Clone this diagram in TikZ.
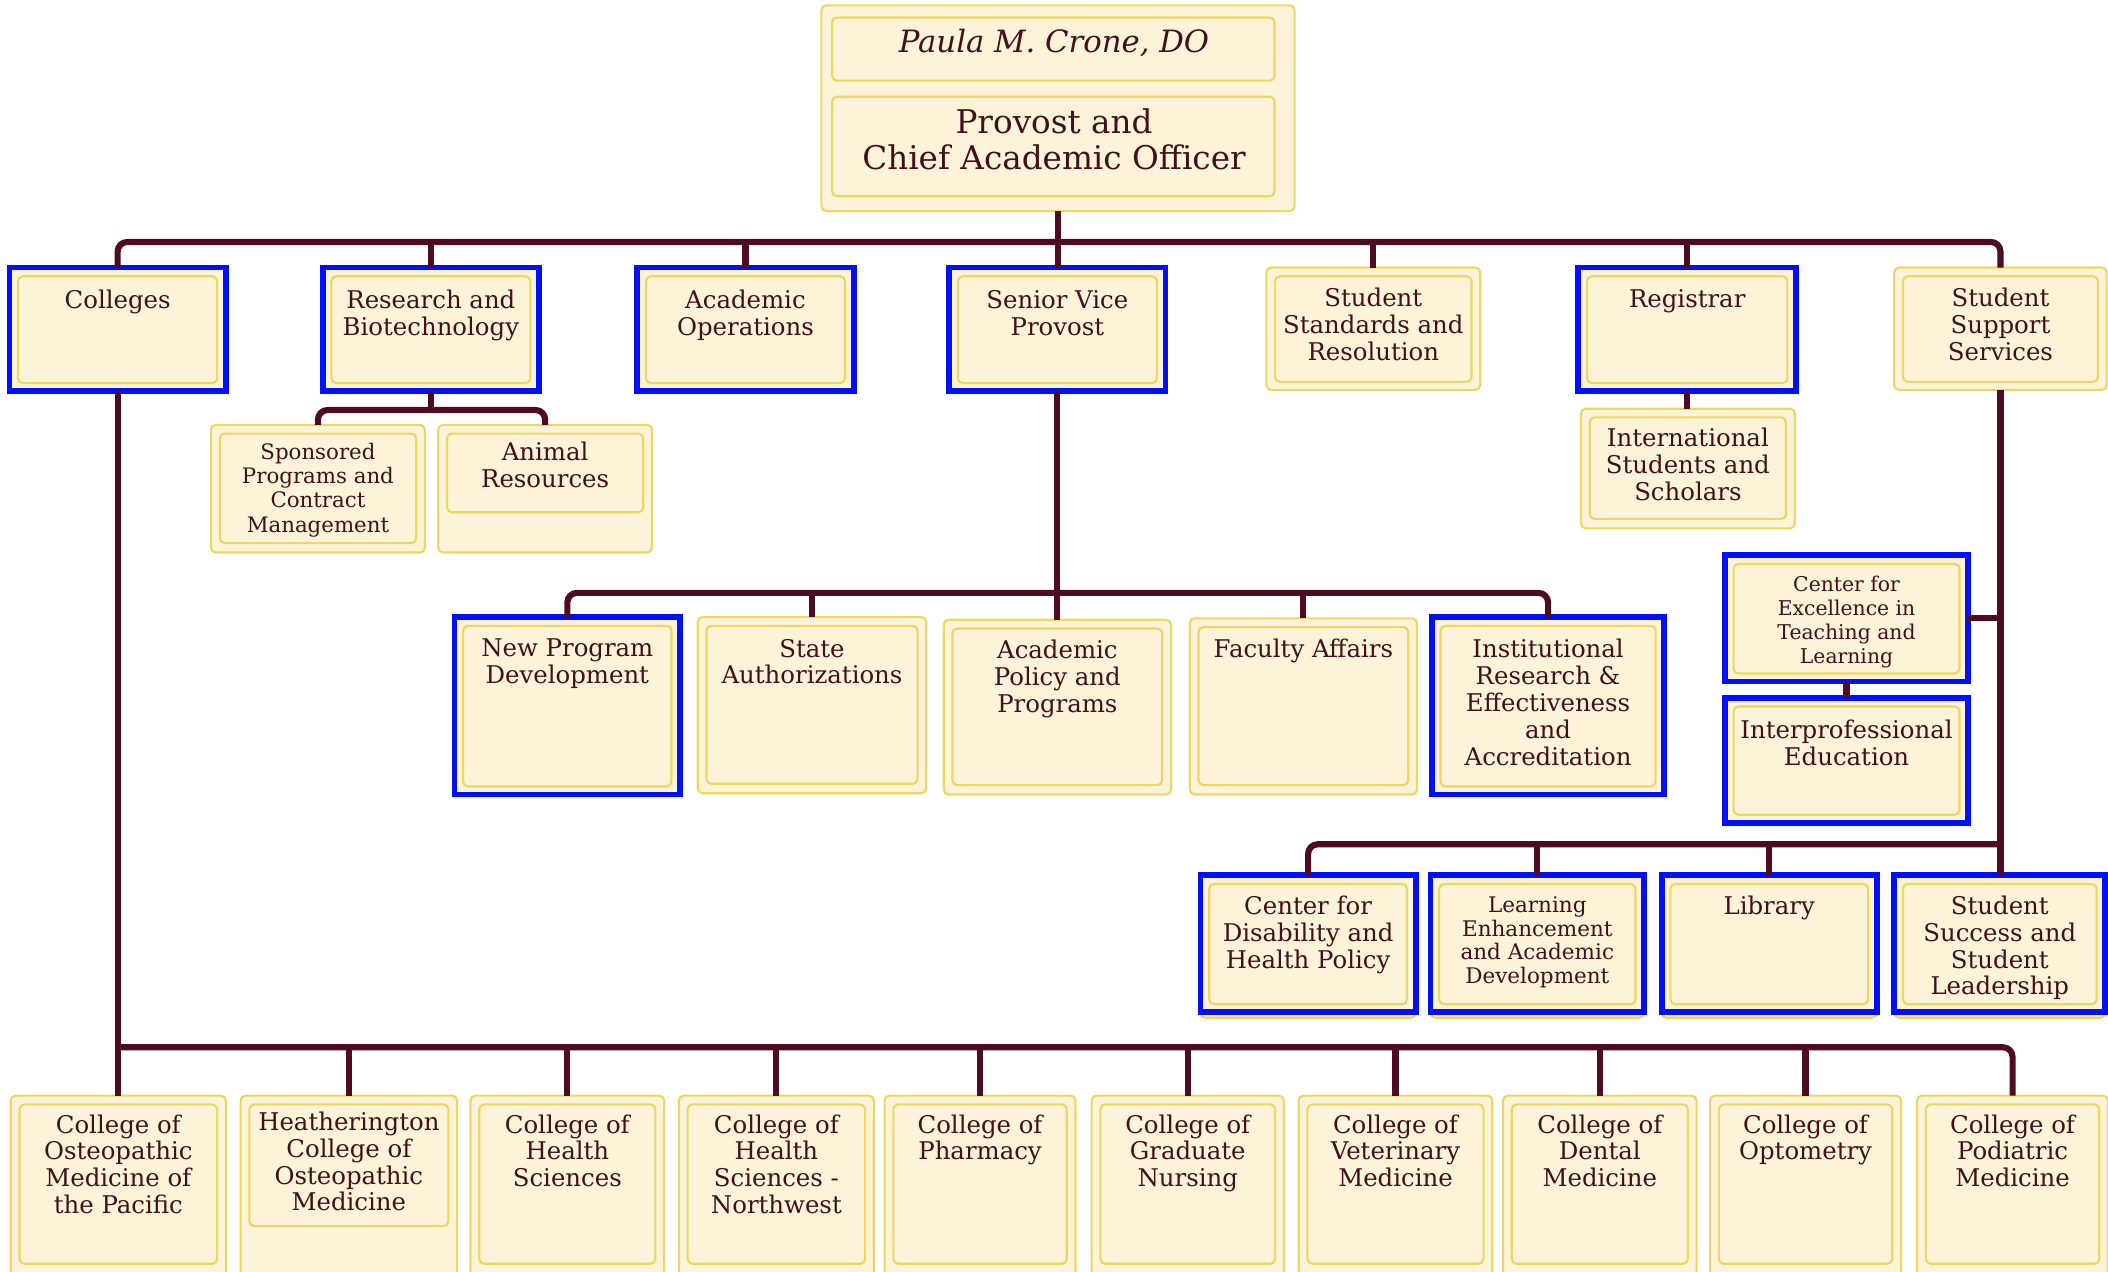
\documentclass[tikz,border=0pt]{standalone}
\usepackage{fontspec}
\setmainfont{DejaVu Serif}
\definecolor{cream}{RGB}{253,243,216}
\definecolor{ybord}{RGB}{238,214,98}
\definecolor{bblue}{RGB}{0,16,255}
\definecolor{maroon}{RGB}{78,12,32}
\definecolor{txtc}{RGB}{66,16,26}
\tikzset{
 yb/.style={rectangle, draw=ybord, line width=1.1pt, fill=cream, rounded corners=2.5pt, inner sep=0pt, outer sep=0pt},
 bb/.style={rectangle, draw=bblue, line width=3pt, fill=cream, inner sep=0pt, outer sep=0pt},
 inr/.style={draw=ybord, line width=1.1pt, rounded corners=2.5pt},
 txt/.style={anchor=north, align=center, inner sep=0pt, text=txtc, font=\fontsize{12.7}{14}\selectfont},
 conn/.style={draw=maroon, line width=3.2pt},
}
% name, x1, y1, x2, y2, kind, inner bottom, text top, text
\newcommand{\orgbox}[9]{%
  \node[#6, minimum width={(#4-#2)*0.7pt}, minimum height={(#5-#3)*0.7pt}, anchor=north west] (#1) at (#2,#3) {};
  \draw[inr] (#2+6.5,#3+6.5) rectangle (#4-6.5,#7);
  \node[txt] (#1-t) at ({(#2+#4)/2},#8) {#9};
}
\begin{document}
\begin{tikzpicture}[x=0.7pt,y=-0.7pt]
\useasboundingbox (0,0) rectangle (1568,946);
\clip (0,0) rectangle (1568,946);

% top box
\node[yb, minimum width={352*0.7pt}, minimum height={153*0.7pt}, anchor=north west] (provost) at (611,4) {};
\node[yb, fill=none, minimum width={329*0.7pt}, minimum height={47*0.7pt}, anchor=north west] (pname) at (619,13) {};
\node[yb, fill=none, minimum width={329*0.7pt}, minimum height={74*0.7pt}, anchor=north west] (ptitle) at (619,72) {};
\node[anchor=base, inner sep=0pt, text=txtc, font=\fontsize{16}{19}\selectfont\itshape] (pname-t) at (784,39.3) {Paula M. Crone, DO};
\node[txt, font=\fontsize{17}{19}\selectfont] (ptitle-t) at (784,80.4) {Provost and\\Chief Academic Officer};

% row 1
\orgbox{colleges}{7}{199}{168}{291}{bb}{285}{215.5}{Colleges}
\orgbox{research}{240}{199}{401}{291}{bb}{285}{215.5}{Research and\\Biotechnology}
\orgbox{acadops}{474}{199}{635}{291}{bb}{285}{215.5}{Academic\\Operations}
\orgbox{svp}{706}{199}{867}{291}{bb}{285}{215.5}{Senior Vice\\Provost}
\orgbox{ssr}{942}{199}{1101}{290}{yb}{284}{214}{Student\\Standards and\\Resolution}
\orgbox{registrar}{1174}{199}{1336}{291}{bb}{285}{215}{Registrar}
\orgbox{sss}{1409}{199}{1567}{290}{yb}{284}{214}{Student\\Support\\Services}

% research sub
\begin{scope}[txt/.append style={font=\fontsize{11.1}{12.6}\selectfont}]
\orgbox{sponsored}{157}{316}{316}{411}{yb}{404}{329.5}{Sponsored\\Programs and\\Contract\\Management}
\end{scope}
\orgbox{animal}{326}{316}{485}{411}{yb}{381}{328.7}{Animal\\Resources}
\orgbox{iss}{1176}{304}{1335}{393}{yb}{386}{318}{International\\Students and\\Scholars}

% row 3
\orgbox{newprog}{338}{459}{506}{591}{bb}{585}{475}{New Program\\Development}
\orgbox{state}{519}{459}{689}{590}{yb}{583}{475}{State\\Authorizations}
\orgbox{acadpol}{702}{461}{871}{591}{yb}{584}{476}{Academic\\Policy and\\Programs}
\orgbox{faculty}{885}{460}{1054}{591}{yb}{584}{475}{Faculty Affairs}
\orgbox{instres}{1065}{459}{1238}{591}{bb}{585}{475}{Institutional\\Research \&\\Effectiveness\\and\\Accreditation}

% CETL / IPE
\begin{scope}[txt/.append style={font=\fontsize{10.6}{12.6}\selectfont}]
\orgbox{cetl}{1283}{413}{1464}{507}{bb}{501}{428}{Center for\\Excellence in\\Teaching and\\Learning}
\end{scope}
\orgbox{ipe}{1283}{519}{1464}{612}{bb}{606}{535}{Interprofessional\\Education}

% row 4
\foreach \a/\b in {893/1053,1064/1223,1236/1396,1409/1566}
  \path[yb] (\a,656) rectangle (\b,757);
\orgbox{cdhp}{893}{651}{1053}{753}{bb}{747}{666}{Center for\\Disability and\\Health Policy}
\begin{scope}[txt/.append style={font=\fontsize{11.2}{12.4}\selectfont}]
\orgbox{lead}{1064}{651}{1223}{753}{bb}{747}{666.5}{Learning\\Enhancement\\and Academic\\Development}
\end{scope}
\orgbox{library}{1236}{651}{1396}{753}{bb}{747}{666}{Library}
\orgbox{ssl}{1409}{651}{1566}{753}{bb}{747}{666}{Student\\Success and\\Student\\Leadership}

% bottom row
\orgbox{comp}{8}{815}{168}{965}{yb}{940}{828.7}{College of\\Osteopathic\\Medicine of\\the Pacific}
\orgbox{heath}{179}{815}{340}{965}{yb}{912}{826.7}{Heatherington\\College of\\Osteopathic\\Medicine}
\orgbox{chs}{350}{815}{494}{965}{yb}{940}{828.7}{College of\\Health\\Sciences}
\orgbox{chsnw}{505}{815}{650}{965}{yb}{940}{828.7}{College of\\Health\\Sciences -\\Northwest}
\orgbox{pharm}{658}{815}{800}{965}{yb}{940}{828.7}{College of\\Pharmacy}
\orgbox{nursing}{812}{815}{955}{965}{yb}{940}{828.7}{College of\\Graduate\\Nursing}
\orgbox{vet}{966}{815}{1110}{965}{yb}{940}{828.7}{College of\\Veterinary\\Medicine}
\orgbox{dental}{1118}{815}{1262}{965}{yb}{940}{828.7}{College of\\Dental\\Medicine}
\orgbox{optom}{1272}{815}{1414}{965}{yb}{940}{828.7}{College of\\Optometry}
\orgbox{podiatric}{1426}{815}{1568}{965}{yb}{940}{828.7}{College of\\Podiatric\\Medicine}

% connectors
\coordinate (b1) at (787,180);
\coordinate (b2) at (321,305);
\coordinate (b3) at (787,441);
\coordinate (b4) at (1200,628);
\coordinate (b5) at (800,779);

\draw[conn] (provost.south) -- (provost.south |- svp.north);
\draw[conn, rounded corners=5pt] (colleges.north) -- (colleges.north |- b1) -- (sss.north |- b1) -- (sss.north);
\foreach \n in {research,acadops,ssr,registrar}
  \draw[conn] (\n.north) -- (\n.north |- b1);

\draw[conn] (research.south) -- (research.south |- b2);
\draw[conn, rounded corners=5pt] (sponsored.north) -- (sponsored.north |- b2) -- (animal.north |- b2) -- (animal.north);

\draw[conn] (registrar.south) -- (registrar.south |- iss.north);

\draw[conn] (svp.south) -- (svp.south |- acadpol.north);
\draw[conn, rounded corners=5pt] (newprog.north) -- (newprog.north |- b3) -- (instres.north |- b3) -- (instres.north);
\foreach \n in {state,faculty}
  \draw[conn] (\n.north) -- (\n.north |- b3);

\draw[conn] (sss.south) -- (sss.south |- ssl.north);
\draw[conn] (cetl.east) -- (cetl.east -| sss.south);
\draw[conn] (cetl.south) -- (ipe.north);
\draw[conn, rounded corners=5pt] (cdhp.north) -- (cdhp.north |- b4) -- (sss.south |- b4);
\foreach \n in {lead,library}
  \draw[conn] (\n.north) -- (\n.north |- b4);

\draw[conn] (colleges.south) -- (colleges.south |- comp.north);
\draw[conn, rounded corners=5pt] (comp.north |- b5) -- (podiatric.north |- b5) -- (podiatric.north);
\foreach \n in {heath,chs,chsnw,pharm,nursing,vet,dental,optom}
  \draw[conn] (\n.north) -- (\n.north |- b5);
\end{tikzpicture}
\end{document}
